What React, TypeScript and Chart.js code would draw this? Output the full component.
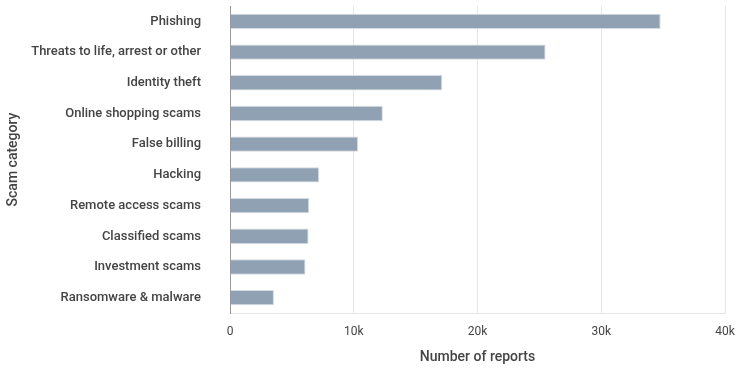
import React, { useEffect, useRef } from "react";
import { Chart, registerables } from "chart.js";

Chart.register(...registerables);

const categories = [
  "Phishing",
  "Threats to life, arrest or other",
  "Identity theft",
  "Online shopping scams",
  "False billing",
  "Hacking",
  "Remote access scams",
  "Classified scams",
  "Investment scams",
  "Ransomware & malware",
];
const reports = [34800, 25500, 17150, 12350, 10350, 7200, 6400, 6350, 6100, 3550];
const xTicks = [0, 10000, 20000, 30000, 40000];

export default function App() {
  const ref = useRef<HTMLCanvasElement | null>(null);
  useEffect(() => {
    document.body.style.margin = "0";
    const ctx = ref.current!;
    const font = "Roboto, 'Noto Sans', sans-serif";
    const chart = new Chart(ctx, {
      type: "bar",
      data: {
        labels: categories,
        datasets: [
          {
            data: reports,
            backgroundColor: "#8fa1b3",
            borderColor: "#d3dae2",
            borderWidth: 1,
            barPercentage: 0.5,
            categoryPercentage: 1,
          },
        ],
      },
      options: {
        indexAxis: "y",
        animation: false,
        responsive: false,
        maintainAspectRatio: false,
        layout: { padding: { top: 6, right: 13, left: 0, bottom: 0 } },
        plugins: { legend: { display: false }, tooltip: { enabled: false } },
        scales: {
          x: {
            min: 0,
            max: 40000,
            afterBuildTicks: (s: any) => {
              s.ticks = xTicks.map((v) => ({ value: v }));
            },
            afterFit: (s: any) => {
              s.height = 56;
              s.paddingLeft = 0;
              s.paddingRight = 0;
            },
            grid: { color: "#e6e6e6", drawTicks: false, lineWidth: 1 },
            border: { display: true, color: "#e6e6e6" },
            ticks: {
              padding: 12,
              color: "#444",
              font: { family: font, size: 12 },
              callback: (v: any) => (v === 0 ? "0" : v / 1000 + "k"),
            },
            title: {
              display: true,
              text: "Number of reports",
              color: "#444",
              font: { family: font, size: 14, weight: 500 },
              padding: { top: 4, bottom: 3 },
            },
          },
          y: {
            afterFit: (s: any) => {
              s.width = 230;
              s.paddingTop = 0;
              s.paddingBottom = 0;
            },
            grid: { display: false, drawTicks: false },
            border: { display: true, color: "#999999", width: 1 },
            ticks: {
              padding: 29,
              color: "#444",
              font: { family: font, size: 13, weight: 500 },
            },
            title: {
              display: true,
              text: "Scam category",
              color: "#444",
              font: { family: font, size: 14, weight: 500 },
              padding: { top: 5, bottom: 4 },
            },
          },
        },
      },
    });
    return () => chart.destroy();
  }, []);
  return (
    <div style={{ width: 738, height: 369, position: "relative" }}>
      <canvas ref={ref} width={738} height={369} style={{ display: "block" }} />
    </div>
  );
}
